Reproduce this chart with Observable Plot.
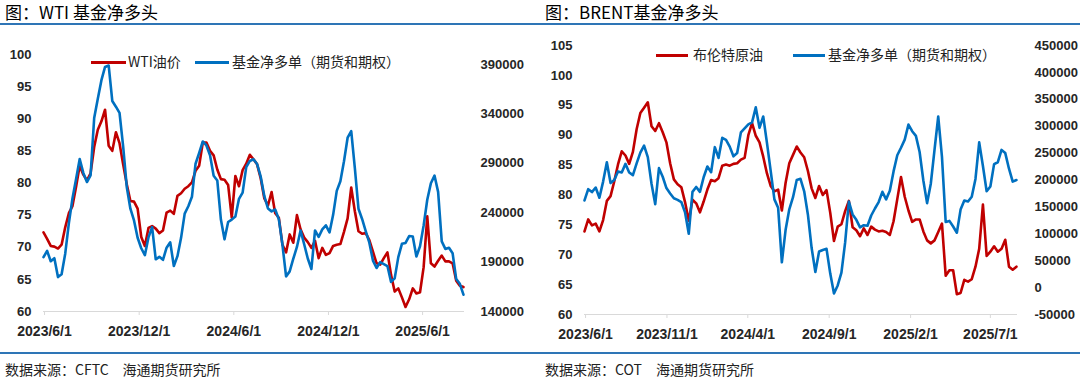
<!DOCTYPE html>
<html><head><meta charset="utf-8">
<script src="https://cdn.jsdelivr.net/npm/d3@7"></script>
<script src="https://cdn.jsdelivr.net/npm/@observablehq/plot@0.6"></script>
<style>
body{margin:0;background:#fff;width:1080px;height:380px;position:relative;overflow:hidden;font-family:"Noto Sans CJK SC","Noto Sans",sans-serif;}
.abs{position:absolute;white-space:nowrap;}
.title{font-size:17px;color:#000;top:1px;line-height:22px;}
.hline{height:2px;background:#2E75B6;}
.foot{font-size:14px;color:#222;top:360px;line-height:18px;}
.leg{font-size:14px;color:#222;line-height:18px;top:52px;}
.sw{height:3px;top:61px;}
#p1,#p2{position:absolute;top:0;}
#p1{left:0}#p2{left:540px}
</style></head>
<body>
<div class="abs title" style="left:5px">图：WTI 基金净多头</div>
<div class="abs title" style="left:545px">图：BRENT基金净多头</div>
<div class="abs hline" style="left:0;top:23px;width:1080px"></div>
<div id="p1"></div><div id="p2"></div>
<div class="abs sw" style="left:91px;width:35px;background:#C00000"></div>
<div class="abs leg" style="left:128px">WTI油价</div>
<div class="abs sw" style="left:195px;width:34px;background:#0070C0"></div>
<div class="abs leg" style="left:232px">基金净多单（期货和期权）</div>
<div class="abs sw" style="left:656px;width:32px;top:54px;background:#C00000"></div>
<div class="abs leg" style="left:693px;top:45px">布伦特原油</div>
<div class="abs sw" style="left:793px;width:32px;top:54px;background:#0070C0"></div>
<div class="abs leg" style="left:828px;top:45px">基金净多单（期货和期权）</div>
<div class="abs hline" style="left:0;top:352px;width:1080px"></div>
<div class="abs foot" style="left:5px">数据来源：CFTC　海通期货研究所</div>
<div class="abs foot" style="left:545px">数据来源：COT　海通期货研究所</div>
<script>
const dates = [
"2023-05-30","2023-06-06","2023-06-13","2023-06-20","2023-06-27","2023-07-04","2023-07-11","2023-07-18","2023-07-25","2023-08-01",
"2023-08-08","2023-08-15","2023-08-22","2023-08-29","2023-09-05","2023-09-12","2023-09-19","2023-09-26","2023-10-03","2023-10-10",
"2023-10-17","2023-10-24","2023-10-31","2023-11-07","2023-11-14","2023-11-21","2023-11-28","2023-12-05","2023-12-12","2023-12-19",
"2023-12-26","2024-01-02","2024-01-09","2024-01-16","2024-01-23","2024-01-30","2024-02-06","2024-02-13","2024-02-20","2024-02-27",
"2024-03-05","2024-03-12","2024-03-19","2024-03-26","2024-04-02","2024-04-09","2024-04-16","2024-04-23","2024-04-30","2024-05-07",
"2024-05-14","2024-05-21","2024-05-28","2024-06-04","2024-06-11","2024-06-18","2024-06-25","2024-07-02","2024-07-09","2024-07-16",
"2024-07-23","2024-07-30","2024-08-06","2024-08-13","2024-08-20","2024-08-27","2024-09-03","2024-09-10","2024-09-17","2024-09-24",
"2024-10-01","2024-10-08","2024-10-15","2024-10-22","2024-10-29","2024-11-05","2024-11-12","2024-11-19","2024-11-26","2024-12-03",
"2024-12-10","2024-12-17","2024-12-24","2024-12-31","2025-01-07","2025-01-14","2025-01-21","2025-01-28","2025-02-04","2025-02-11",
"2025-02-18","2025-02-25","2025-03-04","2025-03-11","2025-03-18","2025-03-25","2025-04-01","2025-04-08","2025-04-15","2025-04-22",
"2025-04-29","2025-05-06","2025-05-13","2025-05-20","2025-05-27","2025-06-03","2025-06-10","2025-06-17","2025-06-24","2025-07-01",
"2025-07-08","2025-07-15","2025-07-22","2025-07-29","2025-08-05","2025-08-12","2025-08-19"];

const wtiPrice = [
72.3,71.3,70.2,70.1,69.8,70.4,73.1,75.3,76.4,79.4,
82.7,81.3,80.4,81.5,85.6,88.3,89.6,91.4,85.8,85.0,
87.9,86.2,82.9,79.8,77.2,77.1,76.0,71.6,70.2,73.0,
73.3,72.9,72.2,72.6,75.4,75.7,75.2,78.0,78.4,79.1,
79.5,80.1,81.9,82.7,86.3,86.3,85.0,84.3,82.1,80.6,
80.5,79.7,74.6,81.1,79.5,82.0,83.0,84.4,83.7,82.9,
80.7,77.6,76.5,78.6,75.3,74.6,70.4,69.2,72.0,70.7,
75.0,72.8,71.5,70.8,69.9,71.0,68.3,69.9,68.8,69.1,
70.2,70.4,70.5,72.4,74.5,79.3,75.6,72.5,72.1,72.2,
71.1,69.3,67.5,67.3,68.3,69.2,65.7,63.1,63.6,62.2,
60.7,61.9,63.6,62.8,63.0,66.9,74.8,67.5,67.0,67.9,
68.7,67.8,67.8,67.5,64.8,64.0,63.8];

const wtiNetLong = [
195000,201300,190800,193900,174800,177700,198500,229200,254300,274000,
294300,280200,271000,277600,335800,355300,374000,387400,388900,353000,
347200,341000,307000,266000,244000,232100,214600,204000,197000,215000,
225300,192800,195300,192300,204500,210000,186000,196000,214500,239000,
246500,256000,289500,300500,312000,308000,298000,277300,272600,233000,
213000,230500,233000,236000,254000,260300,286000,292300,294000,289200,
276400,256700,244200,241300,243200,233400,207500,175500,180600,193400,
205300,222000,208000,193600,183000,222000,215400,223100,227200,220000,
237800,262000,271800,292000,315800,322500,285000,244000,233600,221300,
209600,191500,184000,190000,188000,186000,170000,173500,195000,208500,
209400,216300,215800,195600,206000,227000,253000,269700,277500,261000,
211000,203300,204500,199000,172800,168000,157000];

const brentPrice = [
73.9,75.9,74.9,75.2,73.9,75.8,79.0,79.8,82.3,85.1,
87.3,86.6,85.2,87.2,91.0,93.7,94.6,95.5,91.5,90.7,
92.0,90.5,88.8,85.3,82.6,81.8,81.3,78.8,75.7,79.2,
78.6,77.1,78.9,80.9,82.5,82.3,82.8,84.9,85.1,84.9,
85.2,85.3,85.9,86.2,90.0,92.0,89.9,88.8,86.4,83.6,
81.5,80.6,80.9,77.4,82.0,85.3,86.7,88.1,87.1,86.3,
84.0,81.1,79.5,81.5,80.0,80.8,77.0,72.3,74.7,75.1,
77.3,79.0,74.6,74.1,73.1,74.4,73.3,74.7,74.2,73.9,
74.0,73.8,73.3,75.6,79.3,83.0,79.7,77.4,75.5,75.9,
75.9,73.9,72.4,71.9,72.4,73.8,75.2,66.5,67.4,67.4,
63.4,63.6,65.8,65.5,65.9,68.0,71.0,78.4,69.8,70.5,
71.4,70.5,71.0,72.5,68.0,67.5,68.0];

const brentNetLong = [
162000,183000,177500,186000,167000,197000,233000,194300,200000,216000,
214000,230000,214000,209000,231000,251000,264000,242400,193000,155000,
222000,206000,185000,175000,166000,163000,159000,140000,100000,178000,
187000,178000,205200,225000,214500,261000,241000,278400,274700,262000,
244000,250000,288500,296000,303400,307000,335000,297000,318000,269000,
217000,164000,148500,47000,107000,145600,168000,200000,202200,179000,
135500,73500,29000,67000,70000,72000,26000,-11000,4000,28000,
84000,160000,136000,126000,112000,116000,115000,134000,147000,159000,
178000,164000,180000,216000,246000,260000,275000,303000,290700,282000,
252000,199000,157000,193000,256000,318000,243000,122000,124000,113500,
102000,145000,161800,160000,169000,202000,270000,226000,179000,188000,
229500,233000,256000,250000,221000,197000,200000];

const wtiLeftTicks = [60,65,70,75,80,85,90,95,100];
const wtiRightTicks = [140000,190000,240000,290000,340000,390000];
const wtiDateTicks = ["2023-06-01","2023-12-01","2024-06-01","2024-12-01","2025-06-01"];
const brentLeftTicks = [60,65,70,75,80,85,90,95,100,105];
const brentRightTicks = [-50000,0,50000,100000,150000,200000,250000,300000,350000,400000,450000];
const brentDateTicks = ["2023-06-01","2023-11-01","2024-04-01","2024-09-01","2025-02-01","2025-07-01"];

const RED = "#C00000", BLUE = "#0070C0";
const fmtDate = d => `${d.getUTCFullYear()}/${d.getUTCMonth()+1}/${d.getUTCDate()}`;

function panel({price, net, leftDom, rightDom, leftTicks, rightTicks, dateTicks, m}) {
  const [l0, l1] = leftDom, [r0, r1] = rightDom;
  const toL = v => l0 + (v - r0) / (r1 - r0) * (l1 - l0);
  const toR = y => Math.round(r0 + (y - l0) / (l1 - l0) * (r1 - r0));
  const data = dates.map((d, i) => ({date: new Date(d), price: price[i], net: net[i]}));
  return Plot.plot({
    width: 540, height: 345,
    marginLeft: m.left, marginRight: m.right, marginTop: m.top, marginBottom: m.bottom,
    style: {fontFamily: "'Liberation Sans', Arial, sans-serif", fontSize: "13px", fontWeight: "bold", color: "#262626", background: "transparent", overflow: "visible"},
    x: {type: "utc", domain: [new Date("2023-05-30"), new Date("2025-08-21")], label: null},
    y: {domain: leftDom, label: null},
    marks: [
      Plot.ruleY([l0], {stroke: "#d9d9d9", strokeWidth: 1}),
      Plot.axisX(dateTicks.map(d => new Date(d)), {label: null, tickSize: 4, tickPadding: 11, stroke: "#d9d9d9", fill: "#262626", fontSize: 14, tickFormat: fmtDate}),
      Plot.axisY(leftTicks, {label: null, anchor: "left", tickSize: 0, tickPadding: 12, fill: "#262626"}),
      Plot.axisY(rightTicks.map(toL), {label: null, anchor: "right", tickSize: 0, tickPadding: m.rpad, textAnchor: "start", fill: "#262626", tickFormat: d => String(toR(d))}),
      Plot.line(data, {x: "date", y: "price", stroke: RED, strokeWidth: 2.6, strokeLinejoin: "round"}),
      Plot.line(data, {x: "date", y: d => toL(d.net), stroke: BLUE, strokeWidth: 2.6, strokeLinejoin: "round"})
    ]
  });
}

document.getElementById("p1").appendChild(panel({
  price: wtiPrice, net: wtiNetLong, leftDom: [60, 100], rightDom: [140000, 400000],
  leftTicks: wtiLeftTicks, rightTicks: wtiRightTicks, dateTicks: wtiDateTicks,
  m: {left: 43, right: 76, top: 54, bottom: 34, rpad: 16}
}));
document.getElementById("p2").appendChild(panel({
  price: brentPrice, net: brentNetLong, leftDom: [60, 105], rightDom: [-50000, 450000],
  leftTicks: brentLeftTicks, rightTicks: brentRightTicks, dateTicks: brentDateTicks,
  m: {left: 44, right: 63, top: 45, bottom: 31, rpad: 17}
}));
</script>
</body></html>
